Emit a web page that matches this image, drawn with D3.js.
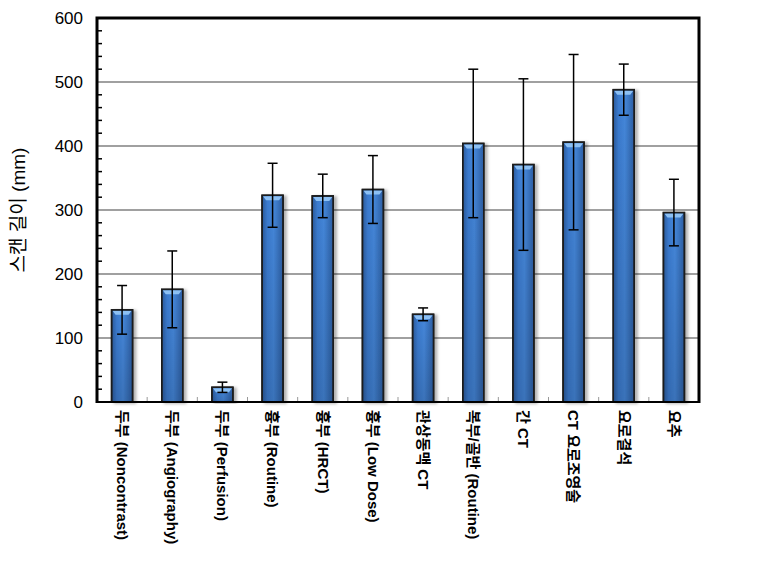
<!DOCTYPE html>
<html><head><meta charset="utf-8">
<script src="https://cdn.jsdelivr.net/npm/d3@7"></script>
<style>body{margin:0;background:#fff}svg{display:block}</style>
</head><body>
<script>
const categories = ["두부 (Noncontrast)","두부 (Angiography)","두부 (Perfusion)","흉부 (Routine)","흉부 (HRCT)","흉부 (Low Dose)","관상동맥 CT","복부/골반 (Routine)","간 CT","CT 요로조영술","요로결석","요추"];
const means = [144,176,23,323,322,332,137,404,371,406,488,296];
const errs  = [38,60,8,50,34,53,10,116,134,137,40,52];
const yTicks = [0,100,200,300,400,500,600];
const yTitle = "스캔 길이 (mm)";

const W=764,H=574, L=97,R=699,T=18,B=402;
const svg=d3.select("body").append("svg").attr("width",W).attr("height",H);
const defs=svg.append("defs");
const g=defs.append("linearGradient").attr("id","bg").attr("x1","0").attr("x2","1").attr("y1","0").attr("y2","0");
[[0,"#2a5a9c"],[0.25,"#3b7bcf"],[0.55,"#4587da"],[1,"#2c5ea3"]].forEach(s=>g.append("stop").attr("offset",s[0]).attr("stop-color",s[1]));
const gv=defs.append("linearGradient").attr("id","bgv").attr("x1","0").attr("x2","0").attr("y1","0").attr("y2","1");
gv.append("stop").attr("offset",0).attr("stop-color","#000").attr("stop-opacity",0);
gv.append("stop").attr("offset",1).attr("stop-color","#000").attr("stop-opacity",0.15);
const f=defs.append("filter").attr("id","sh").attr("x","-50%").attr("y","-10%").attr("width","200%").attr("height","120%");
f.append("feDropShadow").attr("dx",3).attr("dy",1).attr("stdDeviation",1.5).attr("flood-color","#000").attr("flood-opacity",0.3);

const x=d3.scaleBand().domain(categories).range([L,R]);
const y=d3.scaleLinear().domain([0,600]).range([B,T]);
const bw=21;

// gridlines
svg.append("g").selectAll("line").data(yTicks.filter(d=>d>0&&d<600)).join("line")
 .attr("x1",L).attr("x2",R).attr("y1",d=>y(d)).attr("y2",d=>y(d)).attr("stroke","#808080").attr("stroke-width",1.5);

// x inner ticks
svg.append("g").selectAll("line").data(categories.slice(1)).join("line")
 .attr("x1",d=>x(d)).attr("x2",d=>x(d)).attr("y1",B).attr("y2",B-5).attr("stroke","#999").attr("stroke-width",1);

// bars
const bars=svg.append("g").selectAll("g").data(categories).join("g");
bars.append("rect").attr("x",d=>x(d)+x.bandwidth()/2-bw/2).attr("width",bw)
 .attr("y",(d,i)=>y(means[i])).attr("height",(d,i)=>B-y(means[i]))
 .attr("fill","url(#bg)").attr("stroke","#1c1c1c").attr("stroke-width",1.5).attr("filter","url(#sh)");
bars.append("rect").attr("x",d=>x(d)+x.bandwidth()/2-bw/2).attr("width",bw)
 .attr("y",(d,i)=>y(means[i])).attr("height",(d,i)=>B-y(means[i])).attr("fill","url(#bgv)");
bars.append("path").attr("d",(d,i)=>{const cx=x(d)+x.bandwidth()/2, t=y(means[i]);
  return `M${cx-bw/2+1},${t+1}L${cx+bw/2-1},${t+1}L${cx+bw/2-4},${t+5}L${cx-bw/2+4},${t+5}Z`;})
 .attr("fill","#8cc0f4");
bars.append("rect").attr("x",d=>x(d)+x.bandwidth()/2-bw/2).attr("width",bw)
 .attr("y",(d,i)=>y(means[i])).attr("height",(d,i)=>B-y(means[i]))
 .attr("fill","none").attr("stroke","#1c1c1c").attr("stroke-width",1.5);

// error bars
const eb=svg.append("g").attr("stroke","#000").attr("stroke-width",1.5);
categories.forEach((c,i)=>{const cx=x(c)+x.bandwidth()/2;
 const hi=y(means[i]+errs[i]), lo=y(means[i]-errs[i]);
 eb.append("line").attr("x1",cx).attr("x2",cx).attr("y1",hi).attr("y2",lo);
 eb.append("line").attr("x1",cx-5).attr("x2",cx+5).attr("y1",hi).attr("y2",hi);
 eb.append("line").attr("x1",cx-5).attr("x2",cx+5).attr("y1",lo).attr("y2",lo);
});

// y axis minor ticks
svg.append("g").selectAll("line").data(d3.range(20,600,20).filter(d=>d%100!==0)).join("line")
 .attr("x1",L).attr("x2",L+5).attr("y1",d=>y(d)).attr("y2",d=>y(d)).attr("stroke","#000").attr("stroke-width",1.5);

// frame
svg.append("line").attr("x1",L).attr("x2",R).attr("y1",B).attr("y2",B).attr("stroke","#000").attr("stroke-width",2);
svg.append("path").attr("d",`M${L},${B+1}V${T}H${R}V${B+1}`).attr("fill","none").attr("stroke","#000").attr("stroke-width",3);

// y tick labels
svg.append("g").selectAll("text").data(yTicks).join("text")
 .attr("x",L-14).attr("y",d=>y(d)).attr("dy","0.35em").attr("text-anchor","end")
 .attr("font-family","Liberation Sans, Arial, sans-serif").attr("font-size",17).attr("fill","#000").text(d=>d);

// y title
svg.append("text").attr("transform",`translate(25,${(T+B)/2}) rotate(-90)`).attr("text-anchor","middle")
 .attr("font-family","Liberation Sans, 'Noto Sans CJK KR', sans-serif").attr("font-size",19).text(yTitle);

// x labels
svg.append("g").selectAll("text").data(categories).join("text")
 .attr("transform",d=>`translate(${x(d)+x.bandwidth()/2},410) rotate(90)`)
 .attr("dy","0.35em").attr("text-anchor","start")
 .attr("font-family","Liberation Sans, 'Noto Sans CJK KR', sans-serif").attr("font-weight","bold").attr("font-size",15).text(d=>d);
</script>
</body></html>
